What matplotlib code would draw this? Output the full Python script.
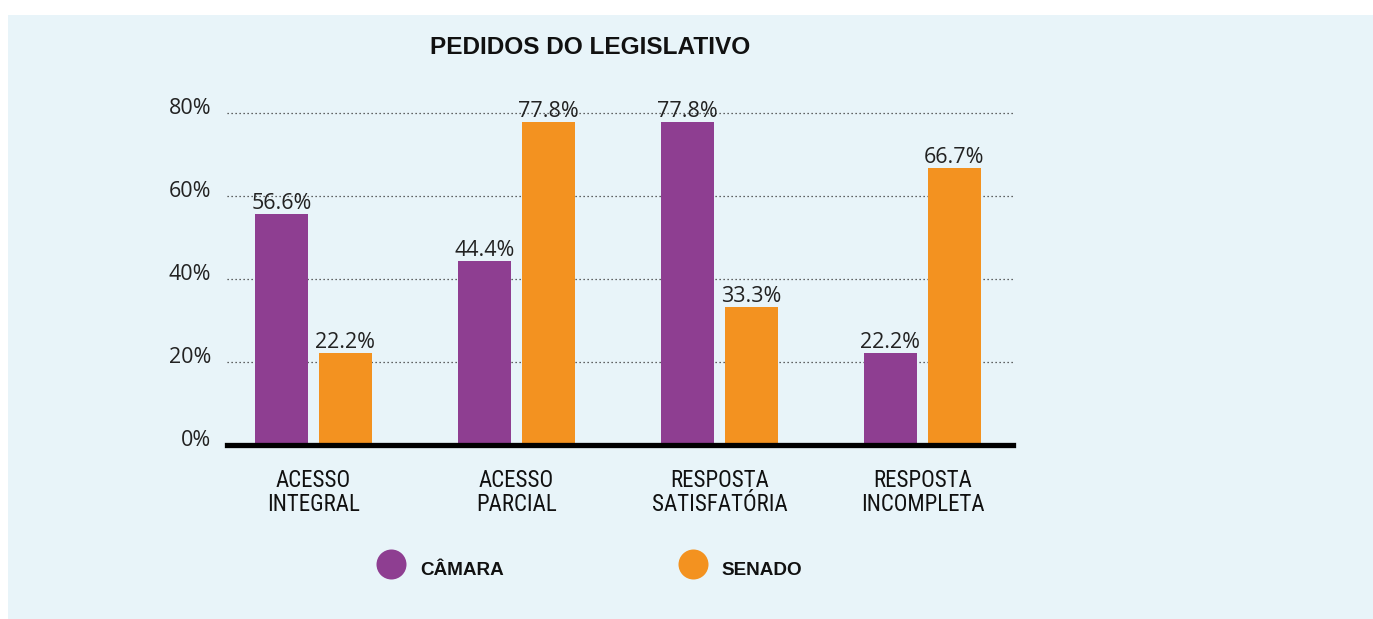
import matplotlib
matplotlib.use("Agg")
import matplotlib.pyplot as plt
from matplotlib import font_manager
from matplotlib.transforms import ScaledTranslation
from matplotlib.patches import Rectangle
from matplotlib.lines import Line2D
import numpy as np

# ---- data ----
categories = ["ACESSO\nINTEGRAL", "ACESSO\nPARCIAL", "RESPOSTA\nSATISFATÓRIA", "RESPOSTA\nINCOMPLETA"]
camara = [55.6, 44.4, 77.8, 22.2]
senado = [22.2, 77.8, 33.3, 66.7]
camara_labels = ["56.6%", "44.4%", "77.8%", "22.2%"]
senado_labels = ["22.2%", "77.8%", "33.3%", "66.7%"]
yticks = [0, 20, 40, 60, 80]
ytick_labels = ["0%", "20%", "40%", "60%", "80%"]
series_names = ["CÂMARA", "SENADO"]
title = "PEDIDOS DO LEGISLATIVO"

PURPLE = "#8E3E91"
ORANGE = "#F39220"
PANEL = "#E8F4F9"

available = {f.name for f in font_manager.fontManager.ttflist}
def pick(*names):
    for n in names:
        if n in available:
            return n
    return "DejaVu Sans"

num_font = pick("Open Sans", "Liberation Sans", "DejaVu Sans")
narrow_font = pick("Liberation Sans Narrow", "Roboto Condensed", "Liberation Sans")
bold_font = pick("Liberation Sans", "Roboto", "DejaVu Sans")
cat_size = {"Liberation Sans Narrow": 16.5, "Roboto Condensed": 16.5}.get(narrow_font, 14)

W, H = 1373, 619
fig = plt.figure(figsize=(W / 100, H / 100), dpi=100)
fig.patch.set_facecolor("white")
fig.add_artist(Rectangle((8 / W, 0), 1 - 8 / W, 1 - 15 / H, transform=fig.transFigure,
                         facecolor=PANEL, edgecolor="none", zorder=-10))

ax_left, ax_right = 227, 1013
y0_px, y80_px = 445, 113
ax = fig.add_axes([ax_left / W, (H - y0_px) / H, (ax_right - ax_left) / W, (y0_px - y80_px) / H])
ax.set_facecolor("none")
for s in ax.spines.values():
    s.set_visible(False)

x = np.arange(len(categories))
off = 0.1576
bw = 0.261
b1 = ax.bar(x - off, camara, bw, color=PURPLE, zorder=2)
b2 = ax.bar(x + off, senado, bw, color=ORANGE, zorder=2)

ax.set_xlim(-0.426, 3.446)
ax.set_ylim(0, 80)

for yv in yticks[1:]:
    ax.axhline(yv, color="#333333", lw=0.9, linestyle=(0, (1, 2.2)), zorder=1, clip_on=False)
ax.axhline(0, color="black", lw=3.8, zorder=3, clip_on=False)

ax.set_yticks(yticks)
ax.set_yticklabels(ytick_labels, fontfamily=num_font, fontsize=15.5, color="#222222")
ax.tick_params(axis="y", length=0, pad=11.5)
for lab in ax.get_yticklabels():
    lab.set_transform(lab.get_transform() + ScaledTranslation(0, 7 / 100, fig.dpi_scale_trans))

ax.set_xticks(x)
ax.set_xticklabels(categories, fontfamily=narrow_font, fontsize=cat_size, color="#111111",
                   linespacing=1.1)
ax.tick_params(axis="x", length=0, pad=17)

for rects, labs in ((b1, camara_labels), (b2, senado_labels)):
    for r, t in zip(rects, labs):
        ax.annotate(t, (r.get_x() + r.get_width() / 2, r.get_height()),
                    xytext=(0, 3.5), textcoords="offset points", ha="center", va="baseline",
                    fontfamily=num_font, fontsize=15.5, color="#222222", zorder=4)

fig.text(430 / W, 1 - 54 / H, title, ha="left", va="baseline", fontfamily=bold_font,
         fontweight="bold", fontsize=17.6, color="#111111")

# legend
for cx, tx, name, col in ((391, 420, series_names[0], PURPLE), (693, 721, series_names[1], ORANGE)):
    fig.add_artist(Line2D([cx / W], [1 - 564 / H], marker="o", markersize=21.6, color=col,
                          markeredgewidth=0, linestyle="none", transform=fig.transFigure))
    fig.text(tx / W, 1 - 575 / H, name, ha="left", va="baseline", fontfamily=bold_font,
             fontweight="bold", fontsize=13.6, color="#111111")

fig.savefig("out.png", dpi=100, facecolor=fig.get_facecolor())
